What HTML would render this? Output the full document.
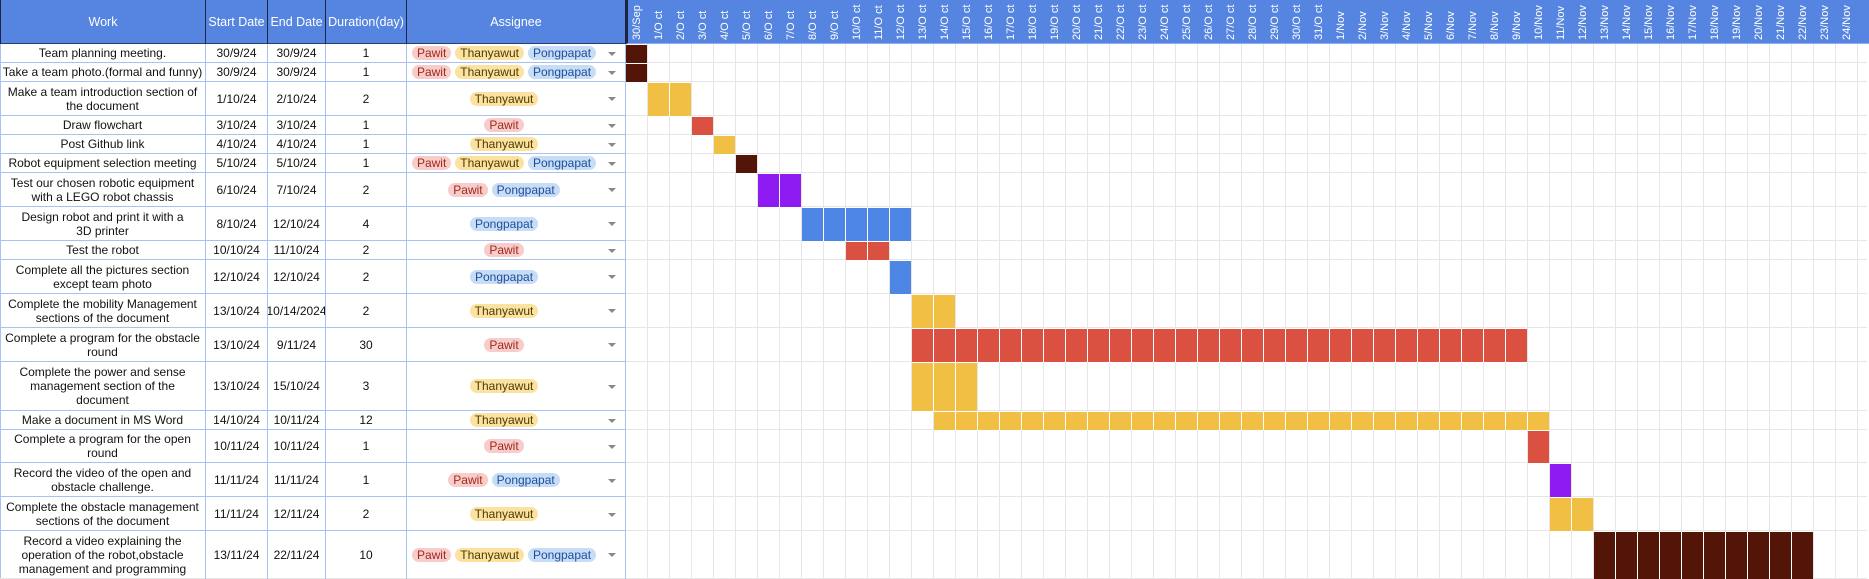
<!DOCTYPE html>
<html><head><meta charset="utf-8">
<style>
*{box-sizing:border-box;margin:0;padding:0}
body{width:1869px;height:579px;overflow:hidden;background:#fff;font-family:"Liberation Sans",Arial,sans-serif;position:relative;color:#111}
.hd{position:absolute;top:0;height:44px;background:#5585e0;color:#fff;font-size:12.5px;display:flex;align-items:center;justify-content:center;border-right:1px solid #1c2540;border-bottom:1px solid #2b3d6a}
.gh{position:absolute;top:0;left:626px;width:1243px;height:44px;background:#5585e0;border-left:2px solid #1c2540;border-bottom:1px solid #8fb0ee}
.dl{position:absolute;top:0;height:44px;width:22px;writing-mode:vertical-rl;transform:rotate(180deg);color:#fff;font-size:11px;padding-top:4px;line-height:22px;white-space:nowrap;text-align:left}
.grid{position:absolute;left:626px;top:44px;width:1241px;height:535px;background:repeating-linear-gradient(to right,transparent 0,transparent 21px,#e6e6e6 21px,#e6e6e6 22px)}
.r{position:absolute;left:0;width:1867px;border-bottom:1px solid #e6e6e6}
.c{position:absolute;display:flex;align-items:center;justify-content:center;text-align:center;font-size:12px;line-height:14px;border-right:1px solid #a9c1f0;border-bottom:1px solid #a9c1f0;white-space:nowrap}
.chips{position:absolute;display:flex;align-items:center;justify-content:center;gap:4px;border-bottom:1px solid #a9c1f0;border-right:1px solid #a9c1f0}
.ch{font-size:12px;line-height:14px;height:14px;padding:0 5px;border-radius:7px}
.p{background:#f6cdca;color:#a5281b}
.t{background:#fbe2a0;color:#4e3b00}
.g{background:#c7dcf5;color:#1d4e9e}
.arr{position:absolute;width:0;height:0;border-left:4px solid transparent;border-right:4px solid transparent;border-top:4px solid #888}
.b{position:absolute;background-image:repeating-linear-gradient(to right,transparent 0,transparent 21px,#fff 21px,#fff 22px)}
</style></head><body>
<div class="hd" style="left:0;width:206px;border-left:1px solid #1c2540">Work</div>
<div class="hd" style="left:206px;width:62px">Start Date</div>
<div class="hd" style="left:268px;width:58px">End Date</div>
<div class="hd" style="left:326px;width:81px">Duration(day)</div>
<div class="hd" style="left:407px;width:219px">Assignee</div>
<div class="gh"></div>
<div class="grid"></div>
<div style="position:absolute;left:0;top:44px;width:1px;height:535px;background:#a9c1f0"></div>

<div id="labels">
<div class="dl" style="left:626px">30/Sep</div>
<div class="dl" style="left:648px">1/O ct</div>
<div class="dl" style="left:670px">2/O ct</div>
<div class="dl" style="left:692px">3/O ct</div>
<div class="dl" style="left:714px">4/O ct</div>
<div class="dl" style="left:736px">5/O ct</div>
<div class="dl" style="left:758px">6/O ct</div>
<div class="dl" style="left:780px">7/O ct</div>
<div class="dl" style="left:802px">8/O ct</div>
<div class="dl" style="left:824px">9/O ct</div>
<div class="dl" style="left:846px">10/O ct</div>
<div class="dl" style="left:868px">11/O ct</div>
<div class="dl" style="left:890px">12/O ct</div>
<div class="dl" style="left:912px">13/O ct</div>
<div class="dl" style="left:934px">14/O ct</div>
<div class="dl" style="left:956px">15/O ct</div>
<div class="dl" style="left:978px">16/O ct</div>
<div class="dl" style="left:1000px">17/O ct</div>
<div class="dl" style="left:1022px">18/O ct</div>
<div class="dl" style="left:1044px">19/O ct</div>
<div class="dl" style="left:1066px">20/O ct</div>
<div class="dl" style="left:1088px">21/O ct</div>
<div class="dl" style="left:1110px">22/O ct</div>
<div class="dl" style="left:1132px">23/O ct</div>
<div class="dl" style="left:1154px">24/O ct</div>
<div class="dl" style="left:1176px">25/O ct</div>
<div class="dl" style="left:1198px">26/O ct</div>
<div class="dl" style="left:1220px">27/O ct</div>
<div class="dl" style="left:1242px">28/O ct</div>
<div class="dl" style="left:1264px">29/O ct</div>
<div class="dl" style="left:1286px">30/O ct</div>
<div class="dl" style="left:1308px">31/O ct</div>
<div class="dl" style="left:1330px">1/Nov</div>
<div class="dl" style="left:1352px">2/Nov</div>
<div class="dl" style="left:1374px">3/Nov</div>
<div class="dl" style="left:1396px">4/Nov</div>
<div class="dl" style="left:1418px">5/Nov</div>
<div class="dl" style="left:1440px">6/Nov</div>
<div class="dl" style="left:1462px">7/Nov</div>
<div class="dl" style="left:1484px">8/Nov</div>
<div class="dl" style="left:1506px">9/Nov</div>
<div class="dl" style="left:1528px">10/Nov</div>
<div class="dl" style="left:1550px">11/Nov</div>
<div class="dl" style="left:1572px">12/Nov</div>
<div class="dl" style="left:1594px">13/Nov</div>
<div class="dl" style="left:1616px">14/Nov</div>
<div class="dl" style="left:1638px">15/Nov</div>
<div class="dl" style="left:1660px">16/Nov</div>
<div class="dl" style="left:1682px">17/Nov</div>
<div class="dl" style="left:1704px">18/Nov</div>
<div class="dl" style="left:1726px">19/Nov</div>
<div class="dl" style="left:1748px">20/Nov</div>
<div class="dl" style="left:1770px">21/Nov</div>
<div class="dl" style="left:1792px">22/Nov</div>
<div class="dl" style="left:1814px">23/Nov</div>
<div class="dl" style="left:1836px">24/Nov</div>
</div>

<div class="r" style="top:44px;height:19px"></div>
<div class="r" style="top:63px;height:19px"></div>
<div class="r" style="top:82px;height:34px"></div>
<div class="r" style="top:116px;height:19px"></div>
<div class="r" style="top:135px;height:19px"></div>
<div class="r" style="top:154px;height:19px"></div>
<div class="r" style="top:173px;height:34px"></div>
<div class="r" style="top:207px;height:34px"></div>
<div class="r" style="top:241px;height:19px"></div>
<div class="r" style="top:260px;height:34px"></div>
<div class="r" style="top:294px;height:34px"></div>
<div class="r" style="top:328px;height:34px"></div>
<div class="r" style="top:362px;height:49px"></div>
<div class="r" style="top:411px;height:19px"></div>
<div class="r" style="top:430px;height:33px"></div>
<div class="r" style="top:463px;height:34px"></div>
<div class="r" style="top:497px;height:34px"></div>
<div class="r" style="top:531px;height:48px"></div>

<div class="c" style="left:0;top:44px;width:206px;height:19px">Team planning meeting.</div>
<div class="c" style="left:206px;top:44px;width:62px;height:19px">30/9/24</div>
<div class="c" style="left:268px;top:44px;width:58px;height:19px">30/9/24</div>
<div class="c" style="left:326px;top:44px;width:81px;height:19px">1</div>
<div class="chips" style="left:407px;top:44px;width:219px;height:19px;padding-right:24px"><span class="ch p">Pawit</span><span class="ch t">Thanyawut</span><span class="ch g">Pongpapat</span></div>

<div class="c" style="left:0;top:63px;width:206px;height:19px;overflow:hidden">Take a team photo.(formal and funny)</div>
<div class="c" style="left:206px;top:63px;width:62px;height:19px">30/9/24</div>
<div class="c" style="left:268px;top:63px;width:58px;height:19px">30/9/24</div>
<div class="c" style="left:326px;top:63px;width:81px;height:19px">1</div>
<div class="chips" style="left:407px;top:63px;width:219px;height:19px;padding-right:24px"><span class="ch p">Pawit</span><span class="ch t">Thanyawut</span><span class="ch g">Pongpapat</span></div>

<div class="c" style="left:0;top:82px;width:206px;height:34px">Make a team introduction section of<br>the document</div>
<div class="c" style="left:206px;top:82px;width:62px;height:34px">1/10/24</div>
<div class="c" style="left:268px;top:82px;width:58px;height:34px">2/10/24</div>
<div class="c" style="left:326px;top:82px;width:81px;height:34px">2</div>
<div class="chips" style="left:407px;top:82px;width:219px;height:34px;padding-right:24px"><span class="ch t">Thanyawut</span></div>

<div class="c" style="left:0;top:116px;width:206px;height:19px">Draw flowchart</div>
<div class="c" style="left:206px;top:116px;width:62px;height:19px">3/10/24</div>
<div class="c" style="left:268px;top:116px;width:58px;height:19px">3/10/24</div>
<div class="c" style="left:326px;top:116px;width:81px;height:19px">1</div>
<div class="chips" style="left:407px;top:116px;width:219px;height:19px;padding-right:24px"><span class="ch p">Pawit</span></div>

<div class="c" style="left:0;top:135px;width:206px;height:19px">Post Github link</div>
<div class="c" style="left:206px;top:135px;width:62px;height:19px">4/10/24</div>
<div class="c" style="left:268px;top:135px;width:58px;height:19px">4/10/24</div>
<div class="c" style="left:326px;top:135px;width:81px;height:19px">1</div>
<div class="chips" style="left:407px;top:135px;width:219px;height:19px;padding-right:24px"><span class="ch t">Thanyawut</span></div>

<div class="c" style="left:0;top:154px;width:206px;height:19px">Robot equipment selection meeting</div>
<div class="c" style="left:206px;top:154px;width:62px;height:19px">5/10/24</div>
<div class="c" style="left:268px;top:154px;width:58px;height:19px">5/10/24</div>
<div class="c" style="left:326px;top:154px;width:81px;height:19px">1</div>
<div class="chips" style="left:407px;top:154px;width:219px;height:19px;padding-right:24px"><span class="ch p">Pawit</span><span class="ch t">Thanyawut</span><span class="ch g">Pongpapat</span></div>

<div class="c" style="left:0;top:173px;width:206px;height:34px">Test our chosen robotic equipment<br>with a LEGO robot chassis</div>
<div class="c" style="left:206px;top:173px;width:62px;height:34px">6/10/24</div>
<div class="c" style="left:268px;top:173px;width:58px;height:34px">7/10/24</div>
<div class="c" style="left:326px;top:173px;width:81px;height:34px">2</div>
<div class="chips" style="left:407px;top:173px;width:219px;height:34px;padding-right:24px"><span class="ch p">Pawit</span><span class="ch g">Pongpapat</span></div>

<div class="c" style="left:0;top:207px;width:206px;height:34px">Design robot and print it with a<br>3D printer</div>
<div class="c" style="left:206px;top:207px;width:62px;height:34px">8/10/24</div>
<div class="c" style="left:268px;top:207px;width:58px;height:34px">12/10/24</div>
<div class="c" style="left:326px;top:207px;width:81px;height:34px">4</div>
<div class="chips" style="left:407px;top:207px;width:219px;height:34px;padding-right:24px"><span class="ch g">Pongpapat</span></div>

<div class="c" style="left:0;top:241px;width:206px;height:19px">Test the robot</div>
<div class="c" style="left:206px;top:241px;width:62px;height:19px">10/10/24</div>
<div class="c" style="left:268px;top:241px;width:58px;height:19px">11/10/24</div>
<div class="c" style="left:326px;top:241px;width:81px;height:19px">2</div>
<div class="chips" style="left:407px;top:241px;width:219px;height:19px;padding-right:24px"><span class="ch p">Pawit</span></div>

<div class="c" style="left:0;top:260px;width:206px;height:34px">Complete all the pictures section<br>except team photo</div>
<div class="c" style="left:206px;top:260px;width:62px;height:34px">12/10/24</div>
<div class="c" style="left:268px;top:260px;width:58px;height:34px">12/10/24</div>
<div class="c" style="left:326px;top:260px;width:81px;height:34px">2</div>
<div class="chips" style="left:407px;top:260px;width:219px;height:34px;padding-right:24px"><span class="ch g">Pongpapat</span></div>

<div class="c" style="left:0;top:294px;width:206px;height:34px">Complete the mobility Management<br>sections of the document</div>
<div class="c" style="left:206px;top:294px;width:62px;height:34px">13/10/24</div>
<div class="c" style="left:268px;top:294px;width:58px;height:34px;overflow:hidden">10/14/2024</div>
<div class="c" style="left:326px;top:294px;width:81px;height:34px">2</div>
<div class="chips" style="left:407px;top:294px;width:219px;height:34px;padding-right:24px"><span class="ch t">Thanyawut</span></div>

<div class="c" style="left:0;top:328px;width:206px;height:34px">Complete a program for the obstacle<br>round</div>
<div class="c" style="left:206px;top:328px;width:62px;height:34px">13/10/24</div>
<div class="c" style="left:268px;top:328px;width:58px;height:34px">9/11/24</div>
<div class="c" style="left:326px;top:328px;width:81px;height:34px">30</div>
<div class="chips" style="left:407px;top:328px;width:219px;height:34px;padding-right:24px"><span class="ch p">Pawit</span></div>

<div class="c" style="left:0;top:362px;width:206px;height:49px">Complete the power and sense<br>management section of the<br>document</div>
<div class="c" style="left:206px;top:362px;width:62px;height:49px">13/10/24</div>
<div class="c" style="left:268px;top:362px;width:58px;height:49px">15/10/24</div>
<div class="c" style="left:326px;top:362px;width:81px;height:49px">3</div>
<div class="chips" style="left:407px;top:362px;width:219px;height:49px;padding-right:24px"><span class="ch t">Thanyawut</span></div>

<div class="c" style="left:0;top:411px;width:206px;height:19px">Make a document in MS Word</div>
<div class="c" style="left:206px;top:411px;width:62px;height:19px">14/10/24</div>
<div class="c" style="left:268px;top:411px;width:58px;height:19px">10/11/24</div>
<div class="c" style="left:326px;top:411px;width:81px;height:19px">12</div>
<div class="chips" style="left:407px;top:411px;width:219px;height:19px;padding-right:24px"><span class="ch t">Thanyawut</span></div>

<div class="c" style="left:0;top:430px;width:206px;height:33px">Complete a program for the open<br>round</div>
<div class="c" style="left:206px;top:430px;width:62px;height:33px">10/11/24</div>
<div class="c" style="left:268px;top:430px;width:58px;height:33px">10/11/24</div>
<div class="c" style="left:326px;top:430px;width:81px;height:33px">1</div>
<div class="chips" style="left:407px;top:430px;width:219px;height:33px;padding-right:24px"><span class="ch p">Pawit</span></div>

<div class="c" style="left:0;top:463px;width:206px;height:34px">Record the video of the open and<br>obstacle challenge.</div>
<div class="c" style="left:206px;top:463px;width:62px;height:34px">11/11/24</div>
<div class="c" style="left:268px;top:463px;width:58px;height:34px">11/11/24</div>
<div class="c" style="left:326px;top:463px;width:81px;height:34px">1</div>
<div class="chips" style="left:407px;top:463px;width:219px;height:34px;padding-right:24px"><span class="ch p">Pawit</span><span class="ch g">Pongpapat</span></div>

<div class="c" style="left:0;top:497px;width:206px;height:34px">Complete the obstacle management<br>sections of the document</div>
<div class="c" style="left:206px;top:497px;width:62px;height:34px">11/11/24</div>
<div class="c" style="left:268px;top:497px;width:58px;height:34px">12/11/24</div>
<div class="c" style="left:326px;top:497px;width:81px;height:34px">2</div>
<div class="chips" style="left:407px;top:497px;width:219px;height:34px;padding-right:24px"><span class="ch t">Thanyawut</span></div>

<div class="c" style="left:0;top:531px;width:206px;height:48px;border-bottom:none">Record a video explaining the<br>operation of the robot,obstacle<br>management and programming</div>
<div class="c" style="left:206px;top:531px;width:62px;height:48px;border-bottom:none">13/11/24</div>
<div class="c" style="left:268px;top:531px;width:58px;height:48px;border-bottom:none">22/11/24</div>
<div class="c" style="left:326px;top:531px;width:81px;height:48px;border-bottom:none">10</div>
<div class="chips" style="left:407px;top:531px;width:219px;height:48px;padding-right:24px;border-bottom:none"><span class="ch p">Pawit</span><span class="ch t">Thanyawut</span><span class="ch g">Pongpapat</span></div>

<div class="arr" style="left:608px;top:52px"></div>
<div class="arr" style="left:608px;top:71px"></div>
<div class="arr" style="left:608px;top:97px"></div>
<div class="arr" style="left:608px;top:124px"></div>
<div class="arr" style="left:608px;top:143px"></div>
<div class="arr" style="left:608px;top:162px"></div>
<div class="arr" style="left:608px;top:188px"></div>
<div class="arr" style="left:608px;top:222px"></div>
<div class="arr" style="left:608px;top:249px"></div>
<div class="arr" style="left:608px;top:275px"></div>
<div class="arr" style="left:608px;top:309px"></div>
<div class="arr" style="left:608px;top:343px"></div>
<div class="arr" style="left:608px;top:385px"></div>
<div class="arr" style="left:608px;top:419px"></div>
<div class="arr" style="left:608px;top:445px"></div>
<div class="arr" style="left:608px;top:479px"></div>
<div class="arr" style="left:608px;top:513px"></div>
<div class="arr" style="left:608px;top:553px"></div>

<div class="b" style="left:626px;top:45px;width:21px;height:18px;background-color:#521507"></div>
<div class="b" style="left:626px;top:64px;width:21px;height:18px;background-color:#521507"></div>
<div class="b" style="left:648px;top:83px;width:43px;height:33px;background-color:#f1bf43"></div>
<div class="b" style="left:692px;top:117px;width:21px;height:18px;background-color:#da5141"></div>
<div class="b" style="left:714px;top:136px;width:21px;height:18px;background-color:#f1bf43"></div>
<div class="b" style="left:736px;top:155px;width:21px;height:18px;background-color:#521507"></div>
<div class="b" style="left:758px;top:174px;width:43px;height:33px;background-color:#8e1cf2"></div>
<div class="b" style="left:802px;top:208px;width:109px;height:33px;background-color:#4e86e6"></div>
<div class="b" style="left:846px;top:242px;width:43px;height:18px;background-color:#da5141"></div>
<div class="b" style="left:890px;top:261px;width:21px;height:33px;background-color:#4e86e6"></div>
<div class="b" style="left:912px;top:295px;width:43px;height:33px;background-color:#f1bf43"></div>
<div class="b" style="left:912px;top:329px;width:615px;height:33px;background-color:#da5141"></div>
<div class="b" style="left:912px;top:363px;width:65px;height:48px;background-color:#f1bf43"></div>
<div class="b" style="left:934px;top:412px;width:615px;height:18px;background-color:#f1bf43"></div>
<div class="b" style="left:1528px;top:431px;width:21px;height:32px;background-color:#da5141"></div>
<div class="b" style="left:1550px;top:464px;width:21px;height:33px;background-color:#8e1cf2"></div>
<div class="b" style="left:1550px;top:498px;width:43px;height:33px;background-color:#f1bf43"></div>
<div class="b" style="left:1594px;top:532px;width:219px;height:47px;background-color:#521507"></div>
</body></html>
